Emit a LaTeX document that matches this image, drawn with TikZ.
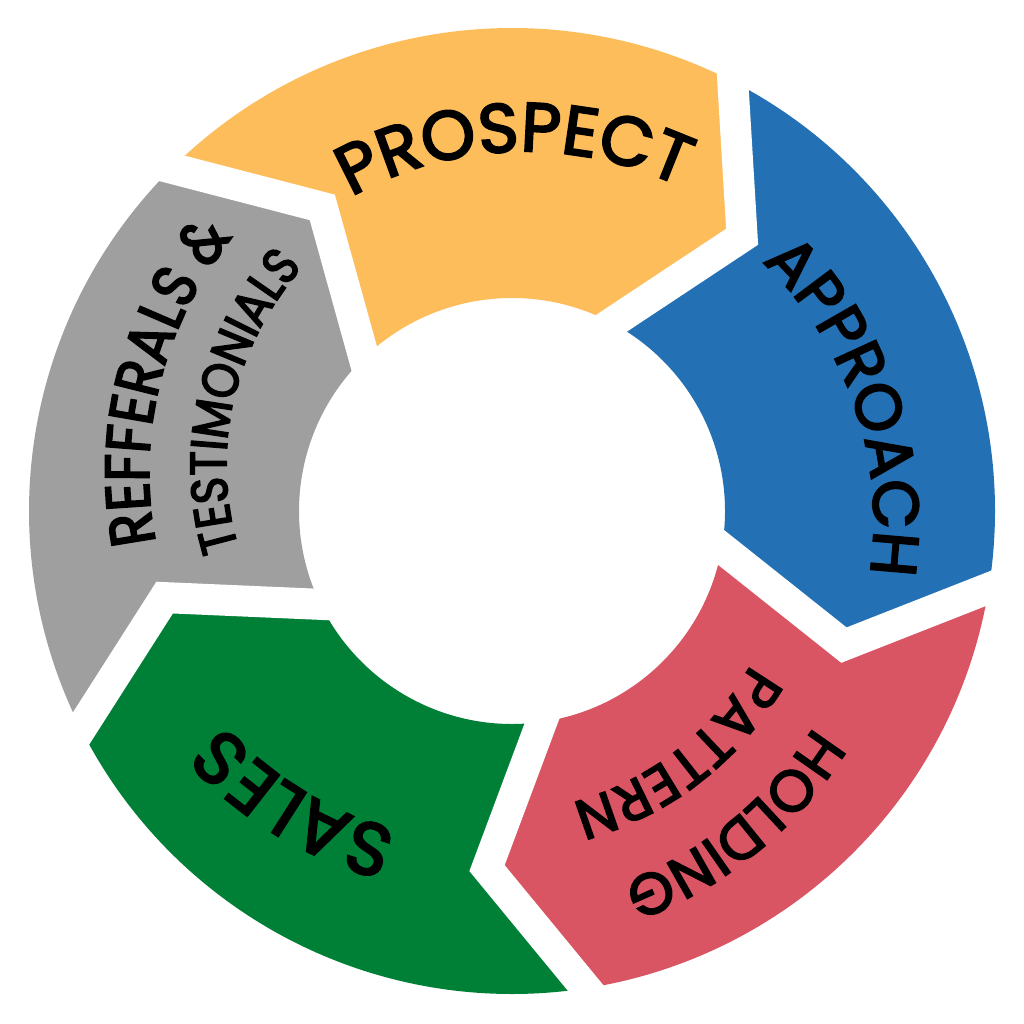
\documentclass[tikz,border=0pt]{standalone}
\usepackage{fontspec}
\newfontfamily\labfont{Poppins}[FakeBold=3.2]
\newfontfamily\labnarrow{Poppins}[FakeBold=3.2, FakeStretch=0.88]
\usetikzlibrary{decorations.text}
\definecolor{cyellow}{HTML}{FEBD5B}
\definecolor{cblue}{HTML}{2470B4}
\definecolor{cred}{HTML}{DA5563}
\definecolor{cgreen}{HTML}{008037}
\definecolor{cgray}{HTML}{9F9F9F}
\newcommand\fP{\labfont\fontsize{69}{69}\selectfont}
\newcommand\fA{\labfont\fontsize{64}{64}\selectfont}
\newcommand\fS{\labfont\fontsize{74}{74}\selectfont}
\newcommand\fH{\labfont\fontsize{58}{58}\selectfont}
\newcommand\fPa{\labfont\fontsize{56}{56}\selectfont}
\newcommand\fR{\labnarrow\fontsize{62}{62}\selectfont}
\newcommand\fT{\labnarrow\fontsize{51}{51}\selectfont}
\def\Ro{483}
\def\Ri{213}
\def\Rm{358}
% #1 = outer angle of the counter-clockwise gap, #2 = colour
\newcommand\ringseg[2]{%
  \fill[#2] (#1:\Ro) -- ({#1-12.8}:\Rm) -- ({#1-0.8}:\Ri)
    arc[start angle={#1-0.8}, end angle={#1-72.8}, radius=\Ri]
    -- ({#1-84.8}:\Rm) -- ({#1-72}:\Ro)
    arc[start angle={#1-72}, end angle={#1}, radius=\Ro] -- cycle;}
% #1 centre angle, #2 half span, #3 radius at centre, #4 slope, #5 font, #6 text
\newcommand\curvetext[6]{%
  \path[decorate, decoration={text along path, text align=center, text={|#5|#6}}]
    plot[domain=-1:1, samples=120, variable=\t] ({#1-#2*\t}:{#3+#4*#2*\t});}
\begin{document}
\begin{tikzpicture}[x=1pt,y=1pt]
\fill[white] (-512,-513) rectangle (512,511);
\path[use as bounding box] (-512,-513) rectangle (512,511);
\ringseg{134.8}{cyellow}
\ringseg{62.8}{cblue}
\ringseg{-9.2}{cred}
\ringseg{-81.2}{cgreen}
\ringseg{-153.2}{cgray}
\foreach \g in {62.8,-9.2,-81.2,-153.2,134.8}
  \draw[white, line width=31, line join=miter, shorten <=-40, shorten >=-40]
    (\g:\Ro) -- ({\g-12.8}:\Rm) -- ({\g-0.8}:\Ri);
\curvetext{91.6}{80}{359}{0.23}{\fP}{PROSPECT}
\curvetext{18.9}{80}{358}{0.19}{\fA}{APPROACH}
\curvetext{-121.5}{80}{346}{0.6}{\fS}{SALES}
\curvetext{-51}{80}{378}{0.45}{\fH}{HOLDING}
\curvetext{-52.6}{80}{290}{0.3}{\fPa}{PATTERN}
\curvetext{165.5}{80}{371}{0.68}{\fR}{REFFERALS {\&}}
\curvetext{166.5}{80}{293}{0.8}{\fT}{TESTIMONIALS}
\end{tikzpicture}
\end{document}
